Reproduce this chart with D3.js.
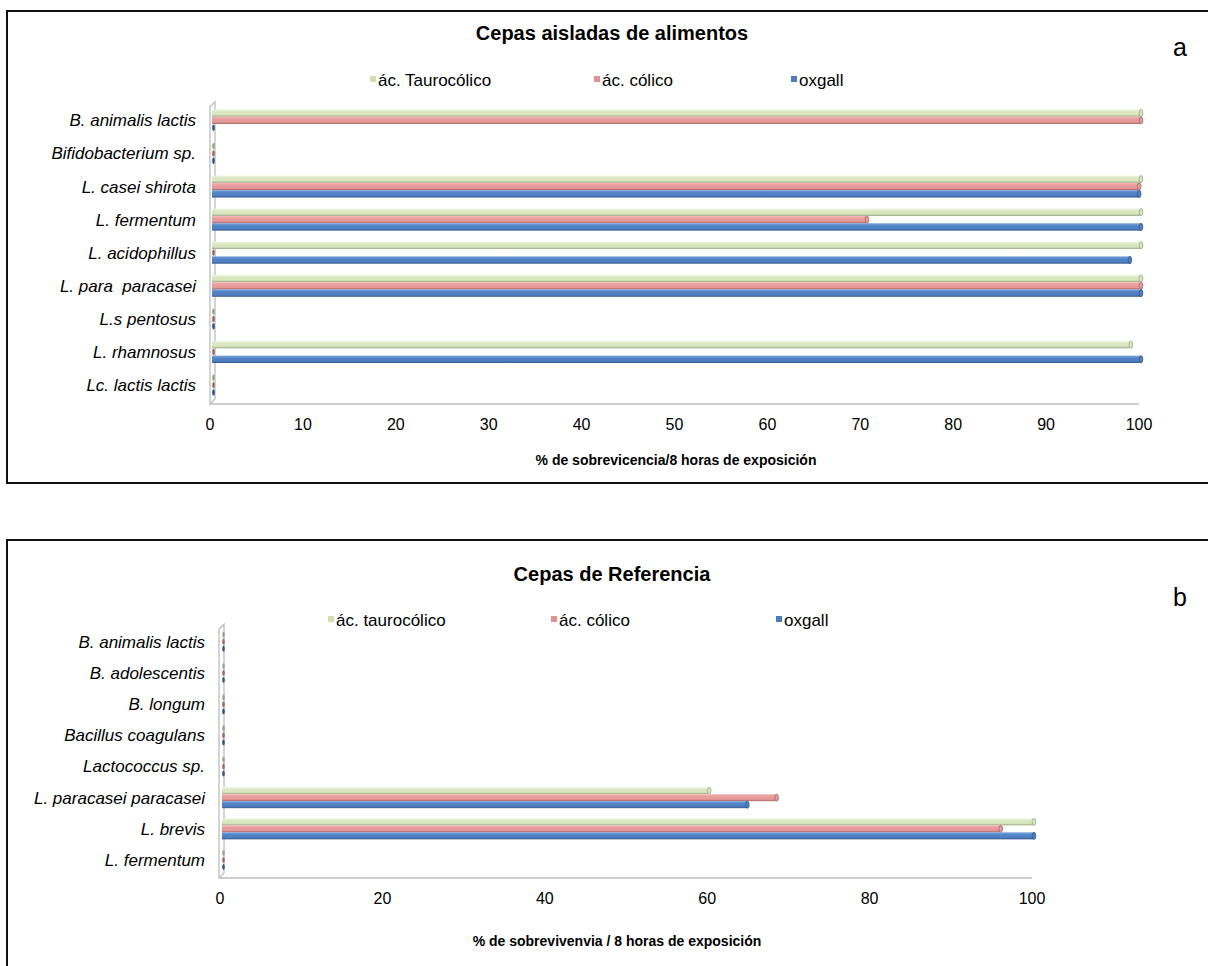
<!DOCTYPE html>
<html>
<head>
<meta charset="utf-8">
<script src="https://cdn.jsdelivr.net/npm/d3@7"></script>
<style>
  html, body { margin: 0; padding: 0; background: #fff; }
  svg { display: block; }
  text { font-family: "Liberation Sans", Arial, sans-serif; fill: #000; white-space: pre; }
</style>
</head>
<body>
<svg id="chart" width="1208" height="966"></svg>
<script>
// ---- data: panel a (food isolates) ----
const categoriesA = ["B. animalis lactis", "Bifidobacterium sp.", "L. casei shirota", "L. fermentum",
  "L. acidophillus", "L. para  paracasei", "L.s pentosus", "L. rhamnosus", "Lc. lactis lactis"];
const taurocolicoA = [100, 0, 100, 100, 100, 100, 0, 98.9, 0];
const colicoA      = [100, 0, 99.8, 70.5, 0, 100, 0, 0, 0];
const oxgallA      = [0, 0, 99.8, 100, 98.8, 100, 0, 100, 0];
const ticksA = [0, 10, 20, 30, 40, 50, 60, 70, 80, 90, 100];
const legendA = ["ác. Taurocólico", "ác. cólico", "oxgall"];

// ---- data: panel b (reference strains) ----
const categoriesB = ["B. animalis lactis", "B. adolescentis", "B. longum", "Bacillus coagulans",
  "Lactococcus sp.", "L. paracasei paracasei", "L. brevis", "L. fermentum"];
const taurocolicoB = [0, 0, 0, 0, 0, 60, 100, 0];
const colicoB      = [0, 0, 0, 0, 0, 68.3, 95.9, 0];
const oxgallB      = [0, 0, 0, 0, 0, 64.7, 100, 0];
const ticksB = [0, 20, 40, 60, 80, 100];
const legendB = ["ác. taurocólico", "ác. cólico", "oxgall"];

const seriesKeys = ["tauro", "colico", "oxgall"];
const palette = {
  tauro:  { light: "#eef5de", main: "#d9e6c0", dark: "#98a882", legend: "#cfe0b0" },
  colico: { light: "#f4b8b8", main: "#e69a99", dark: "#a46665", legend: "#e0908f" },
  oxgall: { light: "#76a2da", main: "#4f81c4", dark: "#33568a", legend: "#4a7ebf" }
};

const svg = d3.select("#chart");
const defs = svg.append("defs");
seriesKeys.forEach(k => {
  const g = defs.append("linearGradient").attr("id", "grad-" + k)
    .attr("x1", 0).attr("y1", 0).attr("x2", 0).attr("y2", 1);
  g.append("stop").attr("offset", "0%").attr("stop-color", palette[k].light);
  g.append("stop").attr("offset", "40%").attr("stop-color", palette[k].main);
  g.append("stop").attr("offset", "72%").attr("stop-color", palette[k].main);
  g.append("stop").attr("offset", "100%").attr("stop-color", palette[k].dark);
});

function drawPanel(cfg) {
  const g = svg.append("g");

  // outer frame (runs past the right/bottom edge of the page)
  g.append("rect")
    .attr("x", 7).attr("y", cfg.frameTop)
    .attr("width", 1260).attr("height", cfg.frameH)
    .attr("fill", "none").attr("stroke", "#111").attr("stroke-width", 2);

  // title
  g.append("text").attr("x", cfg.titleX).attr("y", cfg.titleY)
    .attr("text-anchor", "middle").attr("font-size", 20).attr("font-weight", "bold")
    .text(cfg.title);

  // panel letter
  g.append("text").attr("x", 1180).attr("y", cfg.letterY)
    .attr("text-anchor", "middle").attr("font-size", 25)
    .text(cfg.letter);

  // legend
  cfg.legend.forEach((name, i) => {
    const lx = cfg.legendX[i];
    g.append("rect").attr("x", lx).attr("y", cfg.legendY - 4).attr("width", 6).attr("height", 6)
      .attr("fill", palette[seriesKeys[i]].legend);
    g.append("text").attr("x", lx + 8).attr("y", cfg.legendY + 6)
      .attr("font-size", 17).text(name);
  });

  const x = d3.scaleLinear().domain([0, 100]).range(cfg.xRange);
  const y = d3.scaleBand().domain(cfg.categories).range(cfg.yRange).padding(0);
  const bw = y.bandwidth();
  const pad = (bw - cfg.groupH) / 2;
  const ys = d3.scaleBand().domain(seriesKeys).range([pad, bw - pad]).padding(0);
  const bh = ys.bandwidth();

  // left wall and floor (3D look)
  const fx = cfg.wallX, top = cfg.yRange[0] - 2, floor = cfg.floorY, d = 5;
  g.append("path")
    .attr("d", `M${fx},${floor} L${fx},${top + d} L${fx + d},${top} L${fx + d},${floor - d} Z`)
    .attr("fill", "none").attr("stroke", "#bdbdbd").attr("stroke-width", 1.3);
  g.append("path")
    .attr("d", `M${fx},${floor} L${x(100) - 2},${floor}`)
    .attr("stroke", "#bdbdbd").attr("stroke-width", 1.6);

  // bars
  const rows = cfg.categories.map((c, i) => ({
    cat: c, tauro: cfg.tauro[i], colico: cfg.colico[i], oxgall: cfg.oxgall[i]
  }));
  const groups = g.append("g").selectAll("g").data(rows).join("g")
    .attr("transform", r => `translate(0,${y(r.cat)})`);

  groups.each(function (r) {
    const gg = d3.select(this);
    seriesKeys.forEach(k => {
      const v = r[k];
      const by = ys(k);
      if (v > 0) {
        gg.append("rect")
          .attr("x", x(0)).attr("y", by)
          .attr("width", x(v) - x(0)).attr("height", bh)
          .attr("fill", `url(#grad-${k})`);
        gg.append("ellipse")
          .attr("cx", x(v)).attr("cy", by + bh / 2)
          .attr("rx", 1.8).attr("ry", bh / 2)
          .attr("fill", palette[k].main).attr("stroke", palette[k].dark).attr("stroke-width", 0.8);
      } else {
        // zero-length bar: only its end face shows
        gg.append("ellipse")
          .attr("cx", x(0) + 1.5).attr("cy", by + bh / 2)
          .attr("rx", 1.3).attr("ry", bh / 2 - 0.5)
          .attr("fill", palette[k].dark);
      }
    });
  });

  // category labels
  g.append("g").selectAll("text").data(cfg.categories).join("text")
    .attr("x", cfg.labelX).attr("y", c => y(c) + bw / 2 + 6)
    .attr("text-anchor", "end").attr("font-size", 17).attr("font-style", "italic")
    .text(c => c);

  // value axis tick labels
  g.append("g").selectAll("text").data(cfg.ticks).join("text")
    .attr("x", t => x(t) - 2).attr("y", cfg.tickY)
    .attr("text-anchor", "middle").attr("font-size", 16)
    .text(t => t);

  // axis title
  g.append("text").attr("x", cfg.axisTitleX).attr("y", cfg.axisTitleY)
    .attr("text-anchor", "middle").attr("font-size", 14).attr("font-weight", "bold")
    .text(cfg.axisTitle);
}

drawPanel({
  frameTop: 11, frameH: 472,
  title: "Cepas aisladas de alimentos", titleX: 612, titleY: 40,
  letter: "a", letterY: 56,
  legend: legendA, legendX: [370, 594, 791], legendY: 80,
  categories: categoriesA, tauro: taurocolicoA, colico: colicoA, oxgall: oxgallA,
  xRange: [212, 1141], yRange: [103.8, 401.6], groupH: 22,
  wallX: 210, floorY: 404, labelX: 196,
  ticks: ticksA, tickY: 430,
  axisTitle: "% de sobrevicencia/8 horas de exposición", axisTitleX: 676, axisTitleY: 465
});

drawPanel({
  frameTop: 540, frameH: 500,
  title: "Cepas de Referencia", titleX: 612, titleY: 581,
  letter: "b", letterY: 606,
  legend: legendB, legendX: [328, 551, 776], legendY: 620,
  categories: categoriesB, tauro: taurocolicoB, colico: colicoB, oxgall: oxgallB,
  xRange: [222, 1034], yRange: [626.2, 875.6], groupH: 21,
  wallX: 219, floorY: 878, labelX: 205,
  ticks: ticksB, tickY: 904,
  axisTitle: "% de sobrevivenvia / 8 horas de exposición", axisTitleX: 617, axisTitleY: 946
});
</script>
</body>
</html>
